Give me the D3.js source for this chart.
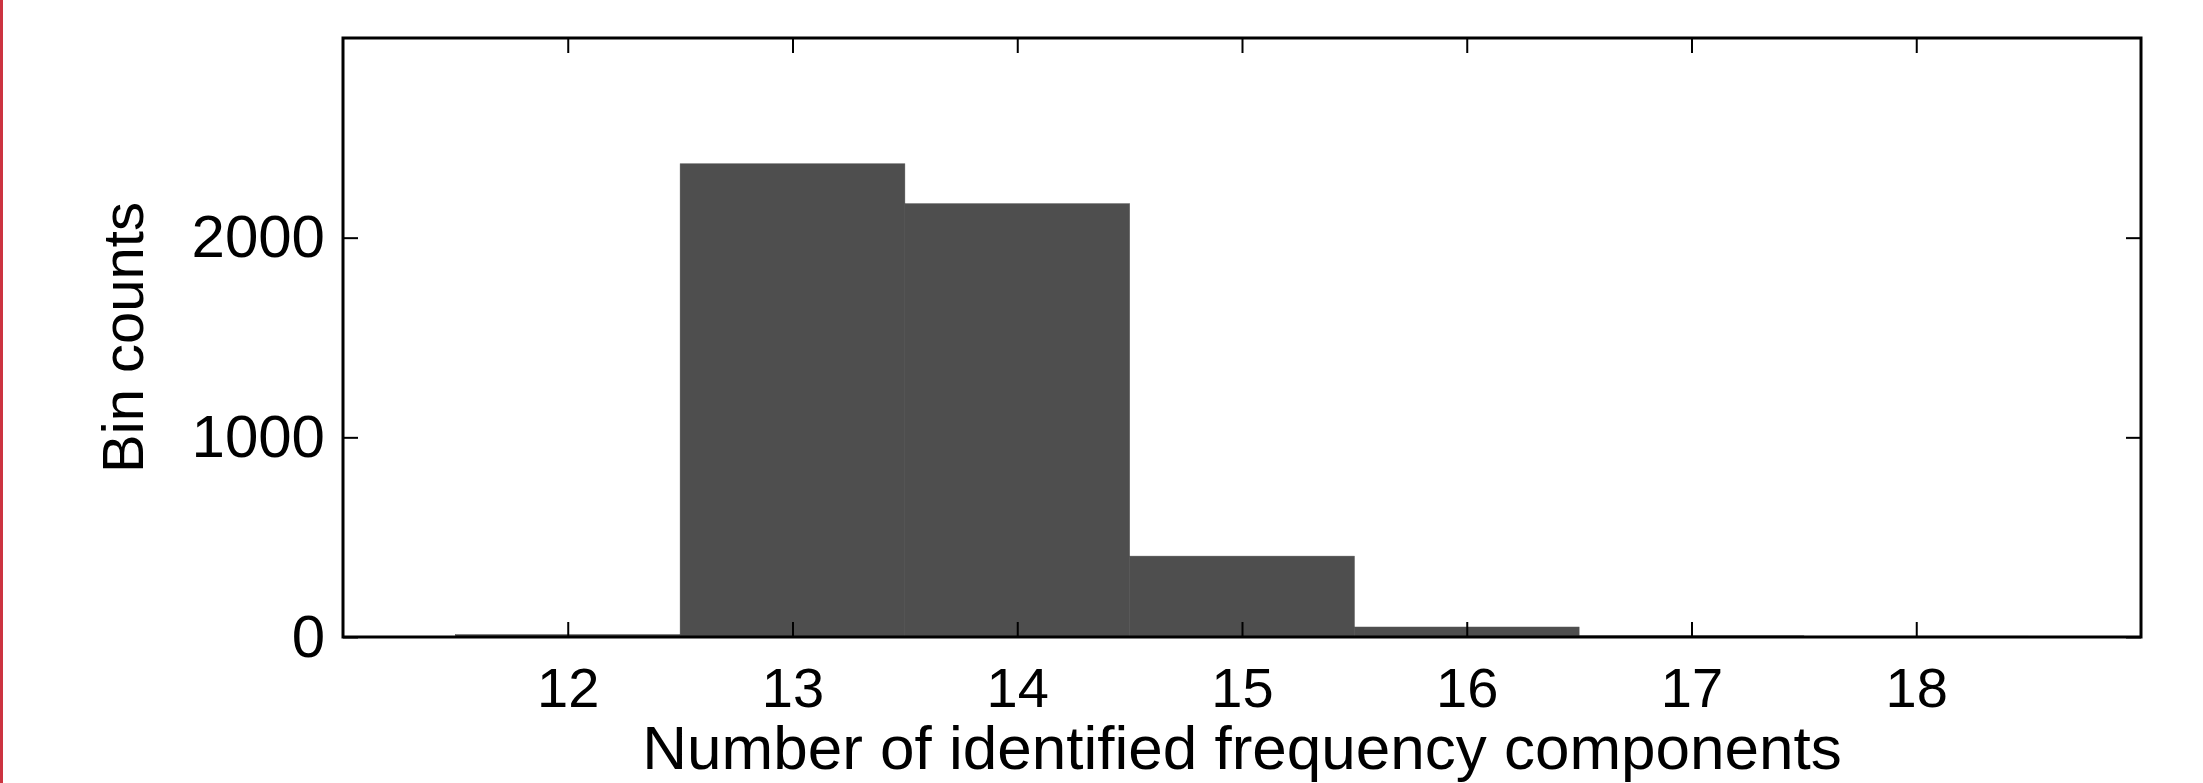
<!DOCTYPE html>
<html>
<head>
<meta charset="utf-8">
<script src="https://cdn.jsdelivr.net/npm/d3@7"></script>
<style>
  body { margin: 0; background: #fff; }
  text { font-family: "Liberation Sans", Arial, Helvetica, sans-serif; fill: #000; }
</style>
</head>
<body>
<div id="container"></div>
<script>

// histogram data
const bins = [12, 13, 14, 15, 16, 17, 18];
const counts = [12, 2370, 2170, 405, 50, 6, 4];
const xTicks = [12, 13, 14, 15, 16, 17, 18];
const yTicks = [0, 1000, 2000];

const width = 2203;
const height = 783;
const margin = { top: 38, right: 62, bottom: 146, left: 343 };

const svg = d3.create("svg")
    .attr("width", width)
    .attr("height", height);

// red strip on the left edge
svg.append("rect")
  .attr("x", 0)
  .attr("y", 0)
  .attr("width", 3)
  .attr("height", height)
  .attr("fill", "#cc3340");

const x = d3.scaleLinear()
    .domain([11, 19])
    .range([margin.left, width - margin.right]);

const y = d3.scaleLinear()
    .domain([0, 3000])
    .range([height - margin.bottom, margin.top]);

// bars, each one unit wide centred on the integer
svg.append("g")
  .selectAll("rect")
  .data(bins)
  .join("rect")
    .attr("x", d => x(d - 0.5))
    .attr("y", (d, i) => y(counts[i]))
    .attr("width", d => x(d + 0.5) - x(d - 0.5))
    .attr("height", (d, i) => y(0) - y(counts[i]))
    .attr("fill", "#4e4e4e")
    .attr("stroke", "#4e4e4e")
    .attr("stroke-width", 0.5);

const tickLen = 15;

// bottom + top ticks (inside), labels only at the bottom
svg.append("g")
  .attr("transform", `translate(0,${y(0)})`)
  .call(d3.axisBottom(x).tickValues(xTicks).tickSize(-tickLen).tickPadding(30).tickFormat(d3.format("d")))
  .call(g => g.select(".domain").remove())
  .call(g => g.selectAll("line").attr("stroke-width", 2))
  .call(g => g.selectAll("text").attr("font-size", 56));

svg.append("g")
  .attr("transform", `translate(0,${y(3000)})`)
  .call(d3.axisTop(x).tickValues(xTicks).tickSize(-tickLen).tickFormat(""))
  .call(g => g.select(".domain").remove())
  .call(g => g.selectAll("line").attr("stroke-width", 2));

// left + right ticks
svg.append("g")
  .attr("transform", `translate(${x(11)},0)`)
  .call(d3.axisLeft(y).tickValues(yTicks).tickSize(-tickLen).tickPadding(18).tickFormat(d3.format("d")))
  .call(g => g.select(".domain").remove())
  .call(g => g.selectAll("line").attr("stroke-width", 2))
  .call(g => g.selectAll("text").attr("font-size", 60));

svg.append("g")
  .attr("transform", `translate(${x(19)},0)`)
  .call(d3.axisRight(y).tickValues(yTicks).tickSize(-tickLen).tickFormat(""))
  .call(g => g.select(".domain").remove())
  .call(g => g.selectAll("line").attr("stroke-width", 2));

// box
svg.append("rect")
  .attr("x", x(11))
  .attr("y", y(3000))
  .attr("width", x(19) - x(11))
  .attr("height", y(0) - y(3000))
  .attr("fill", "none")
  .attr("stroke", "#000")
  .attr("stroke-width", 3);

// axis titles
svg.append("text")
  .attr("x", (x(11) + x(19)) / 2)
  .attr("y", 769)
  .attr("text-anchor", "middle")
  .attr("font-size", 62)
  .text("Number of identified frequency components");

svg.append("text")
  .attr("transform", `translate(143,${(y(0) + y(3000)) / 2}) rotate(-90)`)
  .attr("text-anchor", "middle")
  .attr("font-size", 58)
  .text("Bin counts");

container.append(svg.node());

</script>
</body>
</html>
